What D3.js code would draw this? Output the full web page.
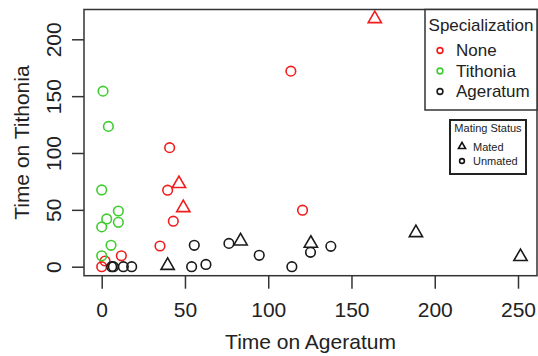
<!DOCTYPE html>
<html>
<head>
<meta charset="utf-8">
<script src="https://cdn.jsdelivr.net/npm/d3@7"></script>
<style>
  body { margin: 0; background: #fff; }
  svg { display: block; font-family: "Liberation Sans", Arial, sans-serif; }
</style>
</head>
<body>
<svg id="chart" width="538" height="356"></svg>
<script>
// --- data ---
const timeAgeratum = [164, 113.6, 40.8, 46.4, 39.6, 49, 43, 120.6, 35, 11.8, 0, 2,
  0.8, 4, 0, 3, 10, 10, 0, 5.6, 0,
  39.6, 83.4, 125.6, 188.7, 251.5,
  55.6, 76.4, 94.6, 114.2, 125.4, 137.6, 54, 62.6, 6, 7, 13, 18];
const timeTithonia = [218, 172, 104.7, 73, 67.3, 51.8, 40, 49.7, 18.2, 9.6, 0, 5,
  154.4, 123.4, 67.5, 42, 49, 39, 35, 18.8, 9.6,
  1, 22.5, 20.5, 29.8, 8.8,
  18.8, 20.5, 10, 0, 12.6, 17.9, 0, 2, 0, 0, 0, 0];
const specialization = ["None", "None", "None", "None", "None", "None", "None", "None", "None", "None", "None", "None",
  "Tithonia", "Tithonia", "Tithonia", "Tithonia", "Tithonia", "Tithonia", "Tithonia", "Tithonia", "Tithonia",
  "Ageratum", "Ageratum", "Ageratum", "Ageratum", "Ageratum",
  "Ageratum", "Ageratum", "Ageratum", "Ageratum", "Ageratum", "Ageratum", "Ageratum", "Ageratum", "Ageratum", "Ageratum", "Ageratum", "Ageratum"];
const matingStatus = ["Mated", "Unmated", "Unmated", "Mated", "Unmated", "Mated", "Unmated", "Unmated", "Unmated", "Unmated", "Unmated", "Unmated",
  "Unmated", "Unmated", "Unmated", "Unmated", "Unmated", "Unmated", "Unmated", "Unmated", "Unmated",
  "Mated", "Mated", "Mated", "Mated", "Mated",
  "Unmated", "Unmated", "Unmated", "Unmated", "Unmated", "Unmated", "Unmated", "Unmated", "Unmated", "Unmated", "Unmated", "Unmated"];

const specLevels = ["None", "Tithonia", "Ageratum"];
const specColors = ["#f21c1c", "#3fcc2e", "#1a1a1a"];
const mateLevels = ["Mated", "Unmated"];
const xTicks = [0, 50, 100, 150, 200, 250];
const yTicks = [0, 50, 100, 150, 200];

const points = timeAgeratum.map((d, i) => ({
  x: d, y: timeTithonia[i], spec: specialization[i], mate: matingStatus[i]
}));

// --- layout ---
const box = {left: 84, top: 9.5, right: 537, bottom: 275.7};
const svg = d3.select("#chart");

const x = d3.scaleLinear().domain([0, 250]).range([101.7, 518]);
const y = d3.scaleLinear().domain([0, 200]).range([266.7, 39.3]);
const color = d3.scaleOrdinal().domain(specLevels).range(specColors);

const ink = "#222";

// x axis
const xAxis = svg.append("g")
    .attr("transform", `translate(0,${box.bottom})`)
    .call(d3.axisBottom(x).tickValues(xTicks).tickSize(13).tickPadding(0).tickFormat(d3.format("d")));
xAxis.select(".domain").remove();
xAxis.selectAll("line").attr("stroke", "#333").attr("stroke-width", 1.5);
xAxis.selectAll("text")
    .attr("y", 41).attr("dy", null)
    .attr("fill", ink).style("font-size", "21px");

// y axis
const yAxis = svg.append("g")
    .attr("transform", `translate(${box.left},0)`)
    .call(d3.axisLeft(y).tickValues(yTicks).tickSize(12).tickFormat(d3.format("d")));
yAxis.select(".domain").remove();
yAxis.selectAll("line").attr("stroke", "#333").attr("stroke-width", 1.5);
yAxis.selectAll("text")
    .attr("x", null).attr("dy", null)
    .attr("text-anchor", "middle")
    .attr("transform", "translate(-23,0) rotate(-90)")
    .attr("fill", ink).style("font-size", "21px");

// axis titles
svg.append("text")
    .attr("x", (box.left + box.right) / 2).attr("y", 349)
    .attr("text-anchor", "middle").attr("fill", ink)
    .style("font-size", "21px")
    .text("Time on Ageratum");

svg.append("text")
    .attr("transform", `translate(28.5,${(box.top + box.bottom) / 2}) rotate(-90)`)
    .attr("text-anchor", "middle").attr("fill", ink)
    .style("font-size", "21px")
    .text("Time on Tithonia");

// points
const r = 4.8;
const tri = d3.symbol().type(d3.symbolTriangle).size(Math.PI * r * r * 1.05);

svg.append("g").selectAll("path")
  .data(points)
  .join("path")
    .attr("transform", d => `translate(${x(d.x)},${y(d.y)})`)
    .attr("d", d => d.mate === "Mated" ? tri() : d3.symbol().type(d3.symbolCircle).size(Math.PI * r * r)())
    .attr("fill", "none")
    .attr("stroke", d => color(d.spec))
    .attr("stroke-width", 1.6);

// plot frame
svg.append("rect")
    .attr("x", box.left).attr("y", box.top)
    .attr("width", box.right - box.left).attr("height", box.bottom - box.top)
    .attr("fill", "none").attr("stroke", "#333").attr("stroke-width", 1.5);

// --- legend: specialization ---
const leg1 = svg.append("g");
leg1.append("rect")
    .attr("x", 425).attr("y", box.top)
    .attr("width", box.right - 425).attr("height", 110 - box.top)
    .attr("fill", "#fff").attr("stroke", "#333").attr("stroke-width", 1.5);
leg1.append("text")
    .attr("x", 481).attr("y", 31)
    .attr("text-anchor", "middle").attr("fill", ink)
    .style("font-size", "17px")
    .text("Specialization");
specLevels.forEach((s, i) => {
  const by = 56 + i * 20.5;
  leg1.append("circle")
      .attr("cx", 440).attr("cy", by - 5.5).attr("r", 2.9)
      .attr("fill", "none").attr("stroke", color(s)).attr("stroke-width", 1.6);
  leg1.append("text")
      .attr("x", 456).attr("y", by)
      .attr("fill", ink).style("font-size", "17px")
      .text(s);
});

// --- legend: mating status ---
const leg2 = svg.append("g");
leg2.append("rect")
    .attr("x", 450).attr("y", 120)
    .attr("width", 76).attr("height", 54)
    .attr("fill", "#fff").attr("stroke", "#222").attr("stroke-width", 2);
leg2.append("text")
    .attr("x", 488).attr("y", 132)
    .attr("text-anchor", "middle").attr("fill", ink)
    .style("font-size", "11px")
    .text("Mating Status");
mateLevels.forEach((m, i) => {
  const by = 150.5 + i * 14.5;
  const sym = m === "Mated" ? d3.symbolTriangle : d3.symbolCircle;
  leg2.append("path")
      .attr("transform", `translate(462,${by - 4})`)
      .attr("d", d3.symbol().type(sym).size(m === "Mated" ? 22 : 18)())
      .attr("fill", "none").attr("stroke", "#111").attr("stroke-width", 1.6);
  leg2.append("text")
      .attr("x", 473).attr("y", by)
      .attr("fill", ink).style("font-size", "11px")
      .text(m);
});
</script>
</body>
</html>
